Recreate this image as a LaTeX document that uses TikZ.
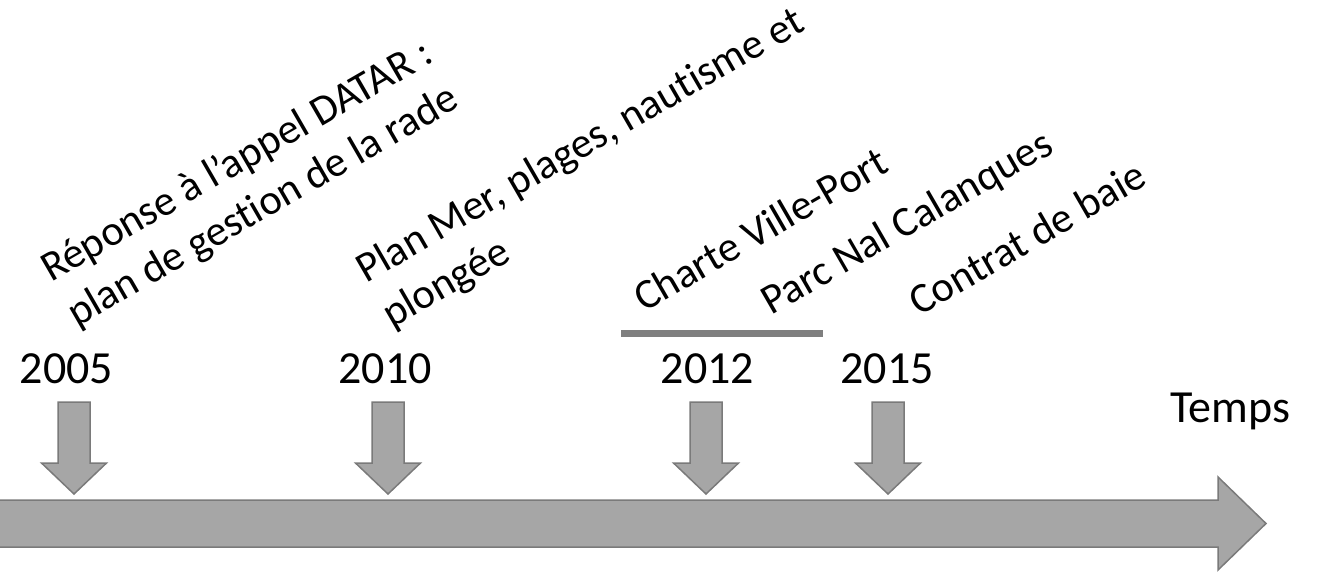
\documentclass[tikz,border=0pt]{standalone}
\usepackage{fontspec}
\setmainfont{Carlito}[Ligatures=NoCommon]
\definecolor{arrowgray}{HTML}{A6A6A6}
\definecolor{edgegray}{HTML}{7A7A7A}
\definecolor{bargray}{HTML}{7F7F7F}
\begin{document}
\begin{tikzpicture}[x=1pt,y=-1pt,
  blockarrow/.style={fill=arrowgray, draw=edgegray, line width=1.5pt, line join=miter},
  yearlabel/.style={font=\fontsize{46}{55}\selectfont, inner sep=0pt, anchor=base},
  eventlabel/.style={font=\fontsize{42.5}{52}\selectfont, inner sep=0pt, anchor=base west, rotate=30}]
\useasboundingbox (0,0) rectangle (1320,571);

% main time axis
\draw[blockarrow] (-10,500) -- (1218,500) -- (1218,477) -- (1266,523.5)
  -- (1218,570) -- (1218,547) -- (-10,547) -- cycle;
\node[yearlabel, anchor=base west] (temps) at (1170,422) {Temps};

% date markers
\foreach \c in {74, 388, 706, 888}{
  \draw[blockarrow] (\c-16,402) -- (\c+16,402) -- (\c+16,463) -- (\c+32.5,463)
    -- (\c,494) -- (\c-32.5,463) -- (\c-16,463) -- cycle;
}
\node[yearlabel] (y2005) at (66.5,383) {2005};
\node[yearlabel] (y2010) at (385,383) {2010};
\node[yearlabel] (y2012) at (707.5,383) {2012};
\node[yearlabel] (y2015) at (887,383) {2015};

% bracket over 2012
\fill[bargray] (621,330) rectangle (823,337);

% events (second lines offset by one line along the rotated normal)
\node[eventlabel] (e1a) at (51,283) {Réponse à l’appel DATAR :};
\node[eventlabel] (e1b) at (77,328) {plan de gestion de la rade};
\node[eventlabel] (e2a) at (366,284) {Plan Mer, plages, nautisme et};
\node[eventlabel] (e2b) at (392,329) {plongée};
\node[eventlabel] (e3) at (644,313) {Charte Ville-Port};
\node[eventlabel] (e4) at (771,316) {Parc Nal Calanques};
\node[eventlabel] (e5) at (919,317) {Contrat de baie};
\end{tikzpicture}
\end{document}
